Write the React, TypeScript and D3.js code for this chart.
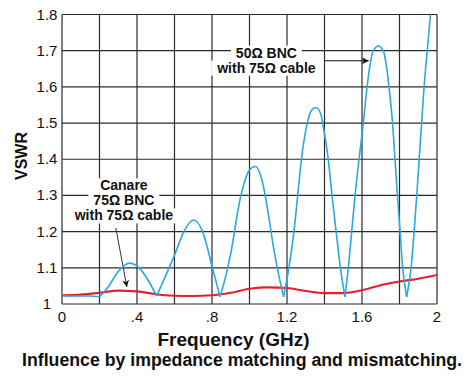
import React, { useEffect, useRef } from "react";
import * as d3 from "d3";

// Frequency (GHz) / VSWR readings
const blueX = [0, 0.05, 0.1, 0.15, 0.2, 0.25, 0.3, 0.36, 0.42, 0.46, 0.505,
  0.55, 0.6, 0.65, 0.7, 0.75, 0.8, 0.843,
  0.87, 0.9, 0.95, 1.0, 1.03, 1.07, 1.1, 1.13, 1.16, 1.182,
  1.21, 1.237, 1.257, 1.277, 1.3, 1.33, 1.355, 1.38, 1.4, 1.42, 1.44, 1.462, 1.485, 1.509,
  1.527, 1.545, 1.563, 1.584, 1.607, 1.627, 1.66, 1.687, 1.713, 1.735, 1.75, 1.763, 1.776, 1.789, 1.803, 1.817, 1.838,
  1.862, 1.878, 1.892, 1.905, 1.918, 1.931, 1.948, 1.965, 1.98];
const blueY = [1.022, 1.022, 1.022, 1.022, 1.02, 1.05, 1.09, 1.113, 1.095, 1.065, 1.022,
  1.075, 1.135, 1.2, 1.232, 1.2, 1.105, 1.02,
  1.07, 1.14, 1.29, 1.37, 1.38, 1.335, 1.25, 1.15, 1.07, 1.02,
  1.1, 1.2, 1.3, 1.4, 1.48, 1.535, 1.543, 1.525, 1.47, 1.4, 1.3, 1.2, 1.1, 1.02,
  1.1, 1.2, 1.3, 1.4, 1.5, 1.6, 1.7, 1.713, 1.7, 1.64, 1.57, 1.5, 1.4, 1.3, 1.2, 1.1, 1.02,
  1.1, 1.2, 1.3, 1.4, 1.5, 1.6, 1.7, 1.8, 1.88];

const redX = [0, 0.1, 0.2, 0.3, 0.4, 0.5, 0.6, 0.7, 0.8, 0.9, 1.0, 1.1, 1.2, 1.3, 1.4, 1.5, 1.6, 1.7, 1.8, 1.9, 2.0];
const redY = [1.024, 1.026, 1.031, 1.037, 1.035, 1.027, 1.023, 1.022, 1.024, 1.031, 1.042, 1.046, 1.044, 1.036, 1.03, 1.03, 1.038, 1.052, 1.062, 1.07, 1.08];

const xTicks = [0, 0.4, 0.8, 1.2, 1.6, 2];
const xTickLabels = ["0", ".4", ".8", "1.2", "1.6", "2"];
const yTicks = [1, 1.1, 1.2, 1.3, 1.4, 1.5, 1.6, 1.7, 1.8];
const yTickLabels = ["1", "1.1", "1.2", "1.3", "1.4", "1.5", "1.6", "1.7", "1.8"];
const xGrid = [0, 0.2, 0.4, 0.6, 0.8, 1.0, 1.2, 1.4, 1.6, 1.8, 2.0];

const bncLabel = ["50\u03A9 BNC", "with 75\u03A9 cable"];
const canareLabel = ["Canare", "75\u03A9 BNC", "with 75\u03A9 cable"];

const W = 469, H = 385;
const FONT = "'Liberation Sans', Arial, Helvetica, sans-serif";

export default function App() {
  const ref = useRef<SVGSVGElement>(null);

  useEffect(() => {
    const svg = d3.select(ref.current);
    svg.selectAll("*").remove();

    const x = d3.scaleLinear().domain([0, 2]).range([62, 437]);
    const y = d3.scaleLinear().domain([1, 1.8]).range([304, 14.5]);

    const defs = svg.append("defs");
    defs.append("clipPath").attr("id", "plot").append("rect")
      .attr("x", x(0)).attr("y", y(1.8)).attr("width", x(2) - x(0)).attr("height", y(1) - y(1.8));
    defs.append("marker").attr("id", "ah").attr("viewBox", "0 0 10 10")
      .attr("refX", 10).attr("refY", 5).attr("markerWidth", 9).attr("markerHeight", 7)
      .attr("markerUnits", "userSpaceOnUse").attr("orient", "auto")
      .append("path").attr("d", "M0,0 L10,5 L0,10 L3,5 Z").attr("fill", "#111");

    const g = svg.append("g");

    // grid
    g.selectAll("line.vg").data(xGrid).join("line")
      .attr("x1", d => x(d)).attr("x2", d => x(d))
      .attr("y1", y(1)).attr("y2", y(1.8))
      .attr("stroke", "#2b2b2b").attr("stroke-width", 1.2);
    g.selectAll("line.hg").data(yTicks).join("line")
      .attr("x1", x(0)).attr("x2", x(2))
      .attr("y1", d => y(d)).attr("y2", d => y(d))
      .attr("stroke", "#2b2b2b").attr("stroke-width", 1.2);

    // tick labels
    g.selectAll("text.xt").data(xTicks).join("text")
      .attr("x", d => x(d)).attr("y", 321.5)
      .attr("text-anchor", "middle").attr("font-family", FONT).attr("font-size", 15).attr("fill", "#111")
      .text((d, i) => xTickLabels[i]);
    g.selectAll("text.yt").data(yTicks).join("text")
      .attr("x", 47).attr("y", d => y(d) + 5)
      .attr("text-anchor", "middle").attr("font-family", FONT).attr("font-size", 15).attr("fill", "#111")
      .text((d, i) => yTickLabels[i]);

    // annotation labels with white backgrounds
    const annot = (lines: string[], cx: number, baseY: number, dy: number) => {
      const ag = g.append("g");
      const rg = ag.append("g");
      const tg = ag.append("g");
      lines.forEach((t, i) => {
        const txt = tg.append("text").attr("x", cx).attr("y", baseY + i * dy)
          .attr("text-anchor", "middle").attr("font-family", FONT).attr("font-weight", "bold")
          .attr("font-size", 14).attr("fill", "#111").text(t);
        const bb = (txt.node() as SVGTextElement).getBBox();
        rg.append("rect").attr("fill", "#fff")
          .attr("x", bb.x - 5).attr("y", baseY + i * dy - 12)
          .attr("width", bb.width + 10).attr("height", dy);
      });
    };
    annot(bncLabel, x(1.09), y(1.7) + 7, 15);
    annot(canareLabel, x(0.33), y(1.3) - 5, 15);

    // arrows
    g.append("line").attr("x1", x(1.4)).attr("y1", y(1.672)).attr("x2", x(1.636)).attr("y2", y(1.672))
      .attr("stroke", "#111").attr("stroke-width", 1.1).attr("marker-end", "url(#ah)");
    g.append("line").attr("x1", x(0.287)).attr("y1", y(1.21)).attr("x2", x(0.346)).attr("y2", y(1.047))
      .attr("stroke", "#333").attr("stroke-width", 1).attr("marker-end", "url(#ah)");

    // curves
    const line = d3.line<[number, number]>().x(d => x(d[0])).y(d => y(d[1])).curve(d3.curveMonotoneX);
    const red: [number, number][] = redX.map((v, i) => [v, redY[i]]);
    g.append("path").attr("d", line(red)!).attr("fill", "none")
      .attr("stroke", "#e3202b").attr("stroke-width", 2.1).attr("clip-path", "url(#plot)");

    const blue: [number, number][] = blueX.map((v, i) => [v, blueY[i]]);
    // split at local minima so the dips are sharp
    const segs: [number, number][][] = [];
    let cur: [number, number][] = [blue[0]];
    for (let i = 1; i < blue.length; i++) {
      cur.push(blue[i]);
      const isMin = i < blue.length - 1 && blue[i][1] <= blue[i - 1][1] && blue[i][1] < blue[i + 1][1];
      if (isMin) { segs.push(cur); cur = [blue[i]]; }
    }
    segs.push(cur);
    const bg = g.append("g").attr("clip-path", "url(#plot)");
    segs.forEach(s => {
      bg.append("path").attr("d", line(s)!).attr("fill", "none")
        .attr("stroke", "#2aa9e0").attr("stroke-width", 1.6).attr("stroke-linejoin", "round");
    });

    // titles
    svg.append("text").attr("transform", `translate(27,156) rotate(-90)`)
      .attr("text-anchor", "middle").attr("font-family", FONT).attr("font-weight", "bold")
      .attr("font-size", 16).attr("fill", "#111").text("VSWR");
    svg.append("text").attr("x", 233.5).attr("y", 346)
      .attr("text-anchor", "middle").attr("font-family", FONT).attr("font-weight", "bold")
      .attr("font-size", 19).attr("fill", "#111").text("Frequency (GHz)");
    svg.append("text").attr("x", 242).attr("y", 366)
      .attr("text-anchor", "middle").attr("font-family", FONT).attr("font-weight", "bold")
      .attr("font-size", 18).attr("fill", "#111")
      .attr("textLength", 440).attr("lengthAdjust", "spacingAndGlyphs")
      .text("Influence by impedance matching and mismatching.");
  }, []);

  return (
    <svg ref={ref} width={W} height={H}
      style={{ position: "absolute", left: 0, top: 0, background: "#fff" }} />
  );
}
